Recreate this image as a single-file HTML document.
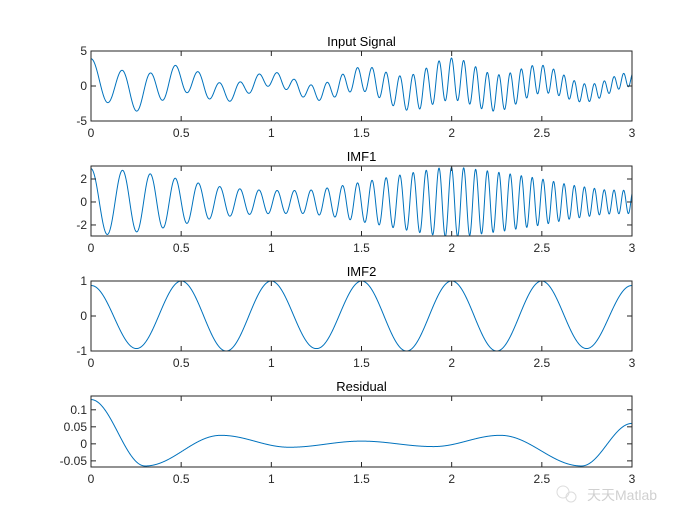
<!DOCTYPE html>
<html><head><meta charset="utf-8"><style>
html,body{margin:0;padding:0;background:#fff;}
svg{display:block;font-family:"Liberation Sans",Arial,sans-serif;}
</style></head><body>
<svg id="s" width="700" height="525" xmlns="http://www.w3.org/2000/svg">
<rect width="700" height="525" fill="#fff"/>
<g id="g"></g>
<g font-family="'Liberation Sans','Noto Sans CJK SC',sans-serif">
<circle cx="563" cy="492" r="6" fill="none" stroke="#dcdcdc" stroke-width="1"/>
<circle cx="571" cy="497" r="5" fill="none" stroke="#dcdcdc" stroke-width="1"/>
<text x="587" y="500" font-size="14" fill="#d0d0d0">天天Matlab</text>
</g>
</svg>
<script>
const X0=91,X1=632,sx=(X1-X0)/3;
const g=document.getElementById('g');let h='';
function interp(pts,t){for(let i=0;i<pts.length-1;i++){const[a,va]=pts[i],[b,vb]=pts[i+1];if(t>=a&&t<=b){const u=(t-a)/(b-a);const s=(1-Math.cos(Math.PI*u))/2;return va+(vb-va)*s;}}return pts[pts.length-1][1];}
const env=[[0,2.9],[0.18,2.75],[0.35,2.4],[0.49,2.0],[0.61,1.6],[0.73,1.3],[0.85,1.1],[1.0,1.0],[1.2,1.0],[1.35,1.3],[1.42,1.5],[1.6,2.0],[1.8,2.6],[1.95,3.0],[2.05,3.0],[2.3,2.5],[2.5,2.0],[2.65,1.5],[2.85,1.05],[3,1.0]];
function linI(pts,t){for(let i=0;i<pts.length-1;i++){const[a,va]=pts[i],[b,vb]=pts[i+1];if(t>=a&&t<=b)return va+(vb-va)*(t-a)/(b-a);}return pts[pts.length-1][1];}
const imf1=t=>linI(env,t)*Math.cos(2*Math.PI*(5.3*t+2.4*t*t-0.023*t*t*t));
const amp2=[[0,0.87],[0.25,0.93],[0.5,1],[0.75,1],[1,1],[1.25,0.93],[1.5,1],[1.75,1],[2,1],[2.25,1],[2.5,1],[2.75,0.93],[3,0.87]];
const imf2f=t=>Math.cos(4*Math.PI*t)*linI(amp2,t);
const res=[[0,0.13],[0.3,-0.065],[0.72,0.025],[1.1,-0.01],[1.5,0.008],[1.9,-0.008],[2.27,0.025],[2.72,-0.065],[3,0.06]];
const resf=t=>interp(res,t);
const sig=t=>imf1(t)+imf2f(t)+resf(t);
function axes(top,bot,ymin,ymax,yt,ylab,title,fn){
 const sy=(bot-top)/(ymax-ymin);const Y=v=>bot-(v-ymin)*sy;
 let p='';for(let i=0;i<=3000;i++){const t=i/1000;let y=Y(fn(t));y=Math.max(top,Math.min(bot,y));p+=(X0+t*sx).toFixed(2)+','+y.toFixed(2)+' ';}
 h+=`<polyline points="${p}" fill="none" stroke="#0072BD" stroke-width="1"/>`;
 h+=`<rect x="${X0}" y="${top}" width="${X1-X0}" height="${bot-top}" fill="none" stroke="#262626" stroke-width="1"/>`;
 for(let k=0;k<=6;k++){const x=X0+k*sx/2;h+=`<line x1="${x}" y1="${bot}" x2="${x}" y2="${bot-5}" stroke="#262626"/><line x1="${x}" y1="${top}" x2="${x}" y2="${top+5}" stroke="#262626"/>`;
  h+=`<text x="${x}" y="${bot+16}" font-size="12" text-anchor="middle" fill="#262626">${[0,0.5,1,1.5,2,2.5,3][k]}</text>`;}
 yt.forEach((v,i)=>{const y=Y(v);h+=`<line x1="${X0}" y1="${y}" x2="${X0+5}" y2="${y}" stroke="#262626"/><line x1="${X1}" y1="${y}" x2="${X1-5}" y2="${y}" stroke="#262626"/>`;
  h+=`<text x="${X0-4}" y="${y+4}" font-size="12" text-anchor="end" fill="#262626">${ylab[i]}</text>`;});
 h+=`<text x="${(X0+X1)/2}" y="${top-5}" font-size="13" text-anchor="middle" fill="#000">${title}</text>`;
}
axes(51,121,-5,5,[-5,0,5],['-5','0','5'],'Input Signal',sig);
axes(166,236,-2.96,3.13,[-2,0,2],['-2','0','2'],'IMF1',imf1);
axes(281,351,-1,1,[-1,0,1],['-1','0','1'],'IMF2',imf2f);
axes(396,467,-0.068,0.1405,[-0.05,0,0.05,0.1],['-0.05','0','0.05','0.1'],'Residual',resf);
g.innerHTML=h;
</script>
</body></html>
